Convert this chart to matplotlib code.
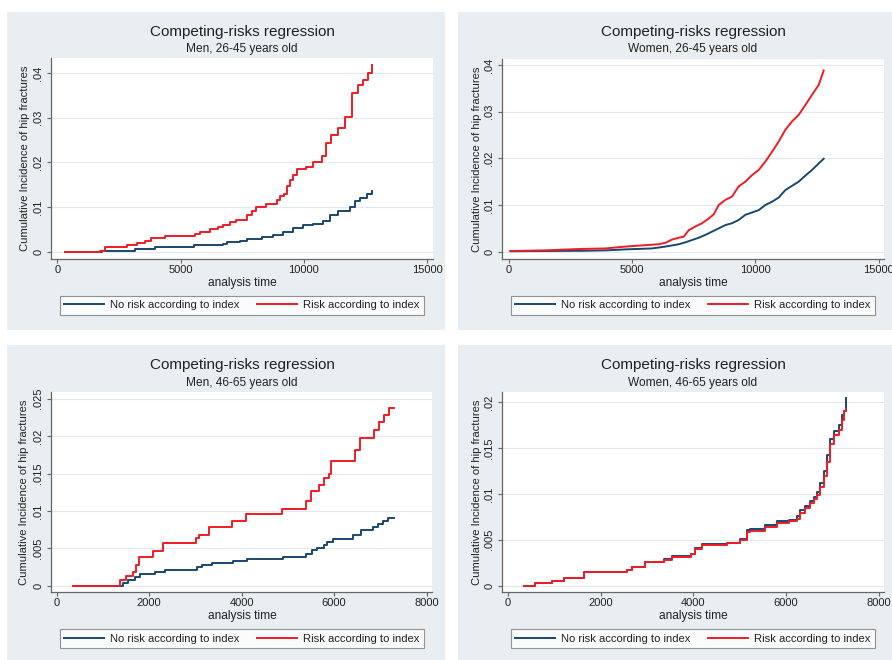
import matplotlib
matplotlib.use("Agg")
import matplotlib.pyplot as plt
from matplotlib.patches import Rectangle

# ---- values (analysis time, cumulative incidence) ----
titles = ["Competing-risks regression"] * 4
subtitles = ["Men, 26-45 years old", "Women, 26-45 years old",
             "Men, 46-65 years old", "Women, 46-65 years old"]
series_labels = ["No risk according to index", "Risk according to index"]

xticks_young = [0, 5000, 10000, 15000]
xticks_old = [0, 2000, 4000, 6000, 8000]
yticks_p1 = [0, 0.01, 0.02, 0.03, 0.04]
ylabels_p1 = ["0", ".01", ".02", ".03", ".04"]
yticks_p3 = [0, 0.005, 0.01, 0.015, 0.02, 0.025]
ylabels_p3 = ["0", ".005", ".01", ".015", ".02", ".025"]
yticks_p4 = [0, 0.005, 0.01, 0.015, 0.02]
ylabels_p4 = ["0", ".005", ".01", ".015", ".02"]

# men 26-45 (jump points of the step curves)
p1_t_no = [310, 1730, 1800, 3150, 3950, 5550, 6700, 6900, 7400, 7700, 8300, 8760,
           9160, 9570, 9970, 10380, 10780, 11050, 11390, 11860, 12070, 12270, 12540, 12780]
p1_ci_no = [0, 0, 0.0002, 0.0006, 0.001, 0.0014, 0.0018, 0.0021, 0.0025, 0.0028, 0.0033, 0.0037,
            0.0045, 0.0054, 0.006, 0.0063, 0.0069, 0.0082, 0.009, 0.01, 0.0114, 0.0121, 0.0128, 0.0136]
p1_t_risk = [310, 1730, 1950, 2810, 3220, 3550, 3820, 4365, 5600, 5800, 6200, 6500, 6700,
             7000, 7250, 7700, 7880, 8050, 8450, 8900, 9050, 9200, 9300, 9450, 9550, 9700,
             10100, 10380, 10750, 10900, 11100, 11390, 11650, 11950, 12200, 12400, 12600, 12780]
p1_ci_risk = [0, 0.0002, 0.001, 0.0015, 0.002, 0.0025, 0.0031, 0.0035, 0.004, 0.0045, 0.005, 0.0055, 0.006,
              0.0066, 0.0071, 0.0082, 0.009, 0.0099, 0.0107, 0.0115, 0.0125, 0.013, 0.0146, 0.016, 0.0172, 0.0185,
              0.019, 0.02, 0.0213, 0.0243, 0.0261, 0.0276, 0.0302, 0.0354, 0.0373, 0.0384, 0.0399, 0.0418]

# women 26-45 (points on the curves, fine steps)
p2_t_no = [70, 3000, 4000, 4730, 5811, 6351, 6892, 7162, 7432, 7703, 7973, 8243, 8514, 8784,
           9054, 9324, 9595, 9865, 10135, 10405, 10676, 10946, 11216, 11486, 11757, 12027,
           12297, 12568, 12770]
p2_ci_no = [0.0001, 0.0002, 0.0003, 0.0005, 0.0007, 0.0011, 0.0016, 0.002, 0.0025, 0.003, 0.0036, 0.0043, 0.005, 0.0057,
            0.0061, 0.0068, 0.0079, 0.0084, 0.0089, 0.01, 0.0107, 0.0116, 0.0132, 0.0141, 0.015, 0.0163,
            0.0175, 0.0189, 0.0199]
p2_t_risk = [70, 1490, 2970, 3920, 4730, 5810, 6081, 6351, 6622, 6892, 7095, 7297, 7568, 7838,
             8108, 8311, 8514, 8784, 9054, 9324, 9595, 9865, 10135, 10405, 10676, 10946, 11216,
             11486, 11757, 12027, 12297, 12568, 12770]
p2_ci_risk = [0.00014, 0.0003, 0.0006, 0.0007, 0.0011, 0.0015, 0.0016, 0.0019, 0.0026, 0.003, 0.0032, 0.0046, 0.0054, 0.0061,
              0.0071, 0.008, 0.01, 0.0111, 0.0118, 0.014, 0.015, 0.0164, 0.0175, 0.0193, 0.0214, 0.0236, 0.0261,
              0.0279, 0.0293, 0.0314, 0.0336, 0.0357, 0.0388]

# men 46-65
p3_t_no = [360, 1390, 1440, 1550, 1690, 1800, 2130, 2340, 3030, 3140, 3350, 3820, 4110, 4900,
           5400, 5510, 5620, 5770, 5840, 5970, 6410, 6590, 6850, 6950, 7060, 7170, 7300]
p3_ci_no = [0, 0, 0.0004, 0.0007, 0.0011, 0.0015, 0.0018, 0.0021, 0.0025, 0.0028, 0.0031, 0.0033, 0.0036, 0.0039,
            0.0042, 0.0048, 0.0051, 0.0055, 0.0058, 0.0063, 0.0068, 0.0075, 0.0078, 0.0082, 0.0087, 0.009, 0.009]
p3_t_risk = [360, 1367, 1496, 1640, 1712, 1784, 2086, 2288, 3007, 3079, 3295, 3799, 4086, 4878,
             5381, 5489, 5669, 5777, 5885, 5921, 6446, 6568, 6856, 6964, 7072, 7180, 7300]
p3_ci_risk = [0, 0.0008, 0.00125, 0.0019, 0.0028, 0.0039, 0.0047, 0.0057, 0.0064, 0.0068, 0.0079, 0.0087, 0.0096, 0.0102,
              0.0113, 0.0126, 0.0135, 0.0144, 0.015, 0.0167, 0.0182, 0.0197, 0.0208, 0.0219, 0.0228, 0.0237, 0.0237]

# women 46-65
p4_t_no = [340, 590, 950, 1200, 1630, 2570, 2680, 2960, 3360, 3540, 3940, 4040, 4190, 4730,
           5010, 5160, 5230, 5550, 5800, 6060, 6240, 6310, 6420, 6520, 6600, 6670, 6740, 6810,
           6880, 6960, 7030, 7140, 7210, 7260, 7300]
p4_ci_no = [0, 0.00025, 0.00054, 0.0008, 0.0015, 0.0017, 0.002, 0.0026, 0.0029, 0.0032, 0.0035, 0.0041, 0.0045, 0.0047,
            0.0051, 0.0061, 0.0062, 0.0066, 0.007, 0.0072, 0.0076, 0.0082, 0.0087, 0.0092, 0.0097, 0.0102, 0.0112, 0.0125,
            0.0142, 0.016, 0.0169, 0.0175, 0.0186, 0.019, 0.0204]
p4_t_risk = p4_t_no
p4_ci_risk = [0, 0.00025, 0.00054, 0.0008, 0.0015, 0.0017, 0.002, 0.0026, 0.0028, 0.0031, 0.0034, 0.004, 0.0044, 0.0046,
              0.005, 0.0059, 0.006, 0.0064, 0.0068, 0.007, 0.0073, 0.0079, 0.0085, 0.009, 0.0094, 0.0099, 0.0108, 0.0119,
              0.0135, 0.0154, 0.0164, 0.017, 0.0181, 0.019, 0.0193]

# ---- layout (pixels of the 892x660 picture) ----
W, H = 892, 660
BG = "#E8EEF1"
NAVY = "#1A476F"
RED = "#F01C24"
TXT = "#222222"
AXC = "#666666"

plt.rcParams["font.family"] = ["Liberation Sans", "DejaVu Sans"]

fig = plt.figure(figsize=(W / 100, H / 100), dpi=100)
fig.patch.set_facecolor("white")


def fx(x):
    return x / W


def fy(y):
    return 1 - y / H


panels = [
    dict(bg=(7, 12, 445, 330), box=(51, 58, 433, 259), xlim=(-255, 15235), ylim=(-0.00163, 0.04333),
         xt=xticks_young, yt=yticks_p1, yl=ylabels_p1, cx=242, ty=31.7, sy=49.3, xly=283, ylx=25, legy=305,
         no=(p1_t_no, p1_ci_no), risk=(p1_t_risk, p1_ci_risk), ds="steps-post"),
    dict(bg=(458, 12, 892, 330), box=(502, 59, 884, 259), xlim=(-272, 15215), ylim=(-0.00156, 0.04126),
         xt=xticks_young, yt=yticks_p1, yl=ylabels_p1, cx=693, ty=31.7, sy=49.3, xly=283, ylx=477, legy=305,
         no=(p2_t_no, p2_ci_no), risk=(p2_t_risk, p2_ci_risk), ds="default"),
    dict(bg=(7, 345, 445, 660), box=(51, 392, 432, 592), xlim=(-123, 8115), ylim=(-0.00084, 0.0259),
         xt=xticks_old, yt=yticks_p3, yl=ylabels_p3, cx=242, ty=365, sy=382.7, xly=616.5, ylx=24.5, legy=638.5,
         no=(p3_t_no, p3_ci_no), risk=(p3_t_risk, p3_ci_risk), ds="steps-post"),
    dict(bg=(458, 345, 892, 660), box=(502, 392, 884, 592), xlim=(-129, 8115), ylim=(-0.00069, 0.0211),
         xt=xticks_old, yt=yticks_p4, yl=ylabels_p4, cx=693, ty=365, sy=383, xly=616.5, ylx=477, legy=638.5,
         no=(p4_t_no, p4_ci_no), risk=(p4_t_risk, p4_ci_risk), ds="steps-post"),
]

for i, p in enumerate(panels):
    x0, y0, x1, y1 = p["bg"]
    fig.patches.append(Rectangle((fx(x0), fy(y1)), (x1 - x0) / W, (y1 - y0) / H,
                                 transform=fig.transFigure, facecolor=BG, edgecolor="none", zorder=-10))

    bx0, by0, bx1, by1 = p["box"]
    ax = fig.add_axes([fx(bx0), fy(by1), (bx1 - bx0) / W, (by1 - by0) / H])
    ax.set_facecolor("white")
    ax.set_xlim(*p["xlim"])
    ax.set_ylim(*p["ylim"])

    for s in ["top", "right"]:
        ax.spines[s].set_visible(False)
    for s in ["left", "bottom"]:
        ax.spines[s].set_color(AXC)
        ax.spines[s].set_linewidth(0.9)

    ax.set_xticks(p["xt"], [str(v) for v in p["xt"]])
    ax.set_yticks(p["yt"], p["yl"], rotation=90, va="center")
    ax.tick_params(axis="both", colors=AXC, labelcolor=TXT, labelsize=8, length=3, width=0.8)
    ax.tick_params(axis="x", pad=1.5)
    ax.tick_params(axis="y", pad=2.5)
    ax.grid(axis="y", color="#E2E8EB", linewidth=0.8)
    ax.set_axisbelow(True)

    h1, = ax.plot(p["no"][0], p["no"][1], drawstyle=p["ds"], color=NAVY, lw=1.4,
                  label=series_labels[0])
    h2, = ax.plot(p["risk"][0], p["risk"][1], drawstyle=p["ds"], color=RED, lw=1.4,
                  label=series_labels[1])

    leg = ax.legend(handles=[h1, h2], ncol=2, loc="center",
                    bbox_to_anchor=(fx(p["cx"]), fy(p["legy"])), bbox_transform=fig.transFigure,
                    fontsize=8.1, frameon=True, fancybox=False, borderpad=0.4,
                    handlelength=3.5, handletextpad=0.6, columnspacing=1.55, borderaxespad=0)
    leg.get_frame().set_edgecolor("#7A7A7A")
    leg.get_frame().set_linewidth(0.8)
    for t in leg.get_texts():
        t.set_color(TXT)

    fig.text(fx(p["cx"]), fy(p["ty"]), titles[i], ha="center", va="center", fontsize=11, color=TXT)
    fig.text(fx(p["cx"]), fy(p["sy"]), subtitles[i], ha="center", va="center", fontsize=8.6, color=TXT)
    fig.text(fx(p["cx"]), fy(p["xly"]), "analysis time", ha="center", va="center", fontsize=8.6, color=TXT)
    fig.text(fx(p["ylx"]), fy((by0 + by1) / 2), "Cumulative Incidence of hip fractures",
             ha="center", va="center", rotation=90, fontsize=8.1, color=TXT)

fig.savefig("out.png", dpi=100, facecolor="white")
